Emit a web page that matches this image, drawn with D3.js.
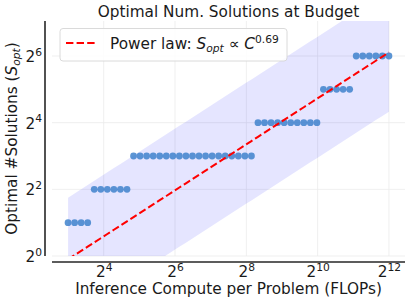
<!DOCTYPE html>
<html>
<head>
<meta charset="utf-8">
<script src="https://cdn.jsdelivr.net/npm/d3@7"></script>
<style>
  html, body { margin: 0; padding: 0; background: #fff; }
  svg { display: block; font-family: "DejaVu Sans", sans-serif; }
</style>
</head>
<body>
<svg id="chart" width="411" height="303"></svg>
<script>
// ---------------- data ----------------
// log2 of inference compute per problem (FLOPs) for each evaluated budget
const computeLog2 = [
  3.000, 3.184, 3.367, 3.551, 3.735, 3.918, 4.102, 4.286, 4.469, 4.653,
  4.837, 5.020, 5.204, 5.388, 5.571, 5.755, 5.939, 6.122, 6.306, 6.490,
  6.673, 6.857, 7.041, 7.224, 7.408, 7.592, 7.776, 7.959, 8.143, 8.327,
  8.510, 8.694, 8.878, 9.061, 9.245, 9.429, 9.612, 9.796, 9.980, 10.163,
  10.347, 10.531, 10.714, 10.898, 11.082, 11.265, 11.449, 11.633, 11.816, 12.000
];
// optimal number of solutions at each budget
const optimalS = [
  2, 2, 2, 2,
  4, 4, 4, 4, 4, 4,
  8, 8, 8, 8, 8, 8, 8, 8, 8, 8, 8, 8, 8, 8, 8, 8, 8, 8, 8,
  16, 16, 16, 16, 16, 16, 16, 16, 16, 16,
  32, 32, 32, 32, 32,
  64, 64, 64, 64, 64, 64
];
// power-law fit  S = coef * C^exponent, with shaded band (log2 offsets)
const fitExponent = 0.69;
const fitLog2Coef = -2.17;
const bandUpperLog2 = 1.85;
const bandLowerLog2 = -1.78;
const xTickExps = [4, 6, 8, 10, 12];
const yTickExps = [0, 2, 4, 6];

const compute = computeLog2.map(e => Math.pow(2, e));
const points = compute.map((c, i) => ({ c, s: optimalS[i] }));
const fit = c => Math.pow(2, fitLog2Coef) * Math.pow(c, fitExponent);

// ---------------- layout ----------------
const svg = d3.select("#chart");
const L = 52, R = 405, T = 21, B = 256;
const x = d3.scaleLog().base(2).domain([Math.pow(2, 2.55), Math.pow(2, 12.45)]).range([L, R]);
const y = d3.scaleLog().base(2).domain([1, Math.pow(2, 7.05)]).range([B, T]);

svg.append("defs").append("clipPath").attr("id", "clip")
  .append("rect").attr("x", L).attr("y", T).attr("width", R - L).attr("height", B - T);

// grid
const grid = svg.append("g");
grid.selectAll("line.gx").data(xTickExps).join("line")
  .attr("x1", d => x(Math.pow(2, d))).attr("x2", d => x(Math.pow(2, d)))
  .attr("y1", T).attr("y2", B)
  .attr("stroke", "#ebebeb").attr("stroke-width", 0.8);
grid.selectAll("line.gy").data(yTickExps).join("line")
  .attr("y1", d => y(Math.pow(2, d))).attr("y2", d => y(Math.pow(2, d)))
  .attr("x1", L).attr("x2", R)
  .attr("stroke", "#ebebeb").attr("stroke-width", 0.8);

const plot = svg.append("g").attr("clip-path", "url(#clip)");

// band
const area = d3.area()
  .x(d => x(d))
  .y0(d => y(fit(d) * Math.pow(2, bandLowerLog2)))
  .y1(d => y(fit(d) * Math.pow(2, bandUpperLog2)));
plot.append("path").datum(compute)
  .attr("d", area)
  .attr("fill", "#0000ff").attr("fill-opacity", 0.1);

// dots
plot.selectAll("circle").data(points).join("circle")
  .attr("cx", d => x(d.c)).attr("cy", d => y(d.s)).attr("r", 3.4)
  .attr("fill", "#3f82cc").attr("fill-opacity", 0.85);

// fit line
const line = d3.line().x(d => x(d)).y(d => y(fit(d)));
plot.append("path").datum(compute)
  .attr("d", line)
  .attr("fill", "none").attr("stroke", "#ff0000").attr("stroke-width", 2)
  .attr("stroke-dasharray", "7.4,3.2");

// spines
svg.append("line").attr("x1", 45).attr("x2", 45).attr("y1", T).attr("y2", B)
  .attr("stroke", "#262626").attr("stroke-width", 1.6);
svg.append("line").attr("x1", L).attr("x2", R).attr("y1", 262).attr("y2", 262)
  .attr("stroke", "#262626").attr("stroke-width", 1.6);

// tick labels via d3 axes
const fs = 15.3;
function supLabel(sel) {
  sel.each(function(d) {
    const t = d3.select(this);
    const e = Math.round(Math.log2(d));
    t.text(null);
    t.append("tspan").text("2");
    t.append("tspan").attr("dy", -6.5).attr("font-size", fs * 0.7).text(e);
  });
}
const xAxis = d3.axisBottom(x).tickValues(xTickExps.map(e => Math.pow(2, e))).tickSize(0).tickPadding(0);
const gx = svg.append("g").attr("transform", `translate(0,${277})`).call(xAxis);
gx.select(".domain").remove();
gx.selectAll("text").attr("y", 0).attr("dy", null).attr("fill", "#1a1a1a")
  .attr("font-size", fs).attr("font-family", "DejaVu Sans").call(supLabel);

const yAxis = d3.axisLeft(y).tickValues(yTickExps.map(e => Math.pow(2, e))).tickSize(0).tickPadding(0);
const gy = svg.append("g").attr("transform", `translate(42,0)`).call(yAxis);
gy.select(".domain").remove();
gy.selectAll("text").attr("x", 0).attr("dy", null).attr("y", 5.5).attr("fill", "#1a1a1a")
  .attr("font-size", fs).attr("font-family", "DejaVu Sans").attr("text-anchor", "end").call(supLabel);

// title
svg.append("text").attr("x", (L + R) / 2).attr("y", 17).attr("text-anchor", "middle")
  .attr("font-size", fs).attr("fill", "#1a1a1a").text("Optimal Num. Solutions at Budget");

// x label
svg.append("text").attr("x", (L + R) / 2).attr("y", 294).attr("text-anchor", "middle")
  .attr("font-size", fs).attr("fill", "#1a1a1a").text("Inference Compute per Problem (FLOPs)");

// y label
const yl = svg.append("text").attr("transform", `translate(17,${(T + B) / 2}) rotate(-90)`)
  .attr("text-anchor", "middle").attr("font-size", fs).attr("fill", "#1a1a1a");
yl.append("tspan").text("Optimal #Solutions (");
yl.append("tspan").attr("font-style", "italic").text("S");
yl.append("tspan").attr("font-style", "italic").attr("font-size", fs * 0.7).attr("dy", 3).text("opt");
yl.append("tspan").attr("dy", -3).text(")");

// legend
const lg = svg.append("g");
lg.append("rect").attr("x", 60).attr("y", 28.5).attr("width", 227).attr("height", 32.5)
  .attr("rx", 3).attr("fill", "#fff").attr("fill-opacity", 0.85)
  .attr("stroke", "#d6d6d6").attr("stroke-width", 0.9);
lg.append("line").attr("x1", 66).attr("x2", 97).attr("y1", 43).attr("y2", 43)
  .attr("stroke", "#ff0000").attr("stroke-width", 2).attr("stroke-dasharray", "7.4,3.2");
const lt = lg.append("text").attr("x", 110).attr("y", 49).attr("font-size", fs).attr("fill", "#1a1a1a");
lt.append("tspan").text("Power law: ");
lt.append("tspan").attr("font-style", "italic").text("S");
lt.append("tspan").attr("font-style", "italic").attr("font-size", fs * 0.7).attr("dy", 3).text("opt");
lt.append("tspan").attr("dy", -3).text(" \u221D ");
lt.append("tspan").attr("font-style", "italic").text("C");
lt.append("tspan").attr("font-size", fs * 0.7).attr("dy", -6.5).text("0.69");
</script>
</body>
</html>
